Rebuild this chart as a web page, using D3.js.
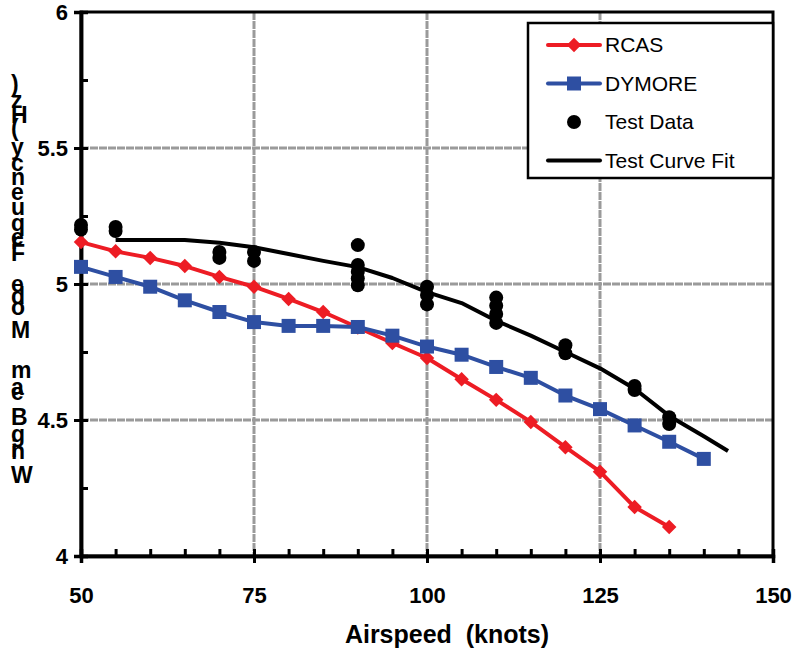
<!DOCTYPE html>
<html>
<head>
<meta charset="utf-8">
<script src="https://cdn.jsdelivr.net/npm/d3@7"></script>
<style>
  body { margin: 0; background: #fff; }
  svg { display: block; font-family: Arial, "Liberation Sans", sans-serif; }
</style>
</head>
<body>
<svg id="chart" width="798" height="653"></svg>
<script>
// Données
const rcasX = [50, 55, 60, 65, 70, 75, 80, 85, 90, 95, 100, 105, 110, 115, 120, 125, 130, 135];
const rcasY = [5.154, 5.12, 5.096, 5.066, 5.026, 4.99, 4.945, 4.897, 4.84, 4.783, 4.728, 4.65, 4.574, 4.493, 4.40, 4.31, 4.18, 4.107];

const dymoreX = [50, 55, 60, 65, 70, 75, 80, 85, 90, 95, 100, 105, 110, 115, 120, 125, 130, 135, 140];
const dymoreY = [5.063, 5.026, 4.99, 4.94, 4.897, 4.86, 4.846, 4.846, 4.842, 4.81, 4.77, 4.74, 4.695, 4.655, 4.59, 4.54, 4.48, 4.42, 4.357];

const testX = [50, 50, 55, 55, 70, 70, 75, 75, 90, 90, 90, 90, 90, 100, 100, 100, 110, 110, 110, 110, 120, 120, 130, 130, 135, 135];
const testY = [5.217, 5.20, 5.21, 5.195, 5.118, 5.096, 5.118, 5.085, 5.143, 5.07, 5.045, 5.02, 4.995, 4.99, 4.96, 4.925, 4.95, 4.92, 4.89, 4.857, 4.775, 4.745, 4.625, 4.61, 4.51, 4.485];

const fitX = [55, 60, 65, 70, 75, 80, 85, 90, 95, 100, 105, 110, 115, 120, 125, 130, 135, 140, 143.5];
const fitY = [5.162, 5.162, 5.162, 5.152, 5.135, 5.11, 5.085, 5.062, 5.022, 4.97, 4.93, 4.865, 4.81, 4.75, 4.69, 4.615, 4.515, 4.44, 4.386];

const xMajor = [50, 75, 100, 125, 150];
const yMajor = [4, 4.5, 5, 5.5, 6];
const seriesNames = ["RCAS", "DYMORE", "Test Data", "Test Curve Fit"];

const red = "#ED1C24";
const blue = "#2E4FA2";

const svg = d3.select("#chart");

// Zone du graphique
const margin = { top: 12, right: 25, bottom: 97, left: 81 };
const width = +svg.attr("width") - margin.left - margin.right;
const height = +svg.attr("height") - margin.top - margin.bottom;

const x = d3.scaleLinear().domain([50, 150]).range([0, width]);
const y = d3.scaleLinear().domain([4, 6]).range([height, 0]);

const g = svg.append("g").attr("transform", `translate(${margin.left},${margin.top})`);

// Grille grise
g.append("g")
    .selectAll("line")
    .data(xMajor.slice(1, -1))
    .enter().append("line")
    .attr("x1", d => x(d)).attr("x2", d => x(d))
    .attr("y1", 0).attr("y2", height)
    .attr("stroke", "#9a9a9a").attr("stroke-width", 3).attr("stroke-dasharray", "8,1");

g.append("g")
    .selectAll("line")
    .data(yMajor.slice(1, -1))
    .enter().append("line")
    .attr("y1", d => y(d)).attr("y2", d => y(d))
    .attr("x1", 0).attr("x2", width)
    .attr("stroke", "#9a9a9a").attr("stroke-width", 3).attr("stroke-dasharray", "8,1");

// Cadre
g.append("rect")
    .attr("width", width).attr("height", height)
    .attr("fill", "none").attr("stroke", "black").attr("stroke-width", 3);

// Axes : graduations extérieures + libellés
const xAxis = g.append("g")
    .attr("transform", `translate(0,${height})`)
    .call(d3.axisBottom(x).tickValues(xMajor).tickSize(7).tickPadding(24).tickFormat(d3.format("d")));

const xAxisIn = g.append("g")
    .attr("transform", `translate(0,${height})`)
    .call(d3.axisBottom(x).tickValues(d3.range(50, 151, 5)).tickSize(-7).tickFormat(""));

const yAxis = g.append("g")
    .call(d3.axisLeft(y).tickValues(yMajor).tickSize(7).tickPadding(6).tickFormat(d => d));

const yAxisIn = g.append("g")
    .call(d3.axisLeft(y).tickValues(d3.range(4, 6.01, 0.25)).tickSize(-7).tickFormat(""));

[xAxis, xAxisIn, yAxis, yAxisIn].forEach(a => {
    a.selectAll(".domain").attr("stroke", "black").attr("stroke-width", 3.5);
    a.selectAll("line").attr("stroke", "black").attr("stroke-width", 3);
    a.selectAll("text")
        .attr("fill", "black")
        .style("font-size", "22px")
        .style("font-weight", "bold")
        .style("font-family", "Arial, 'Liberation Sans', sans-serif");
});

// Courbes
const line = d3.line().x(d => x(d[0])).y(d => y(d[1]));

const fitData = fitX.map((d, i) => [d, fitY[i]]);
const rcasData = rcasX.map((d, i) => [d, rcasY[i]]);
const dymoreData = dymoreX.map((d, i) => [d, dymoreY[i]]);
const testData = testX.map((d, i) => [d, testY[i]]);

const diamond = d3.symbol().type(d3.symbolSquare).size(105);

g.append("path").datum(rcasData)
    .attr("d", line).attr("fill", "none")
    .attr("stroke", red).attr("stroke-width", 4).attr("stroke-linejoin", "round");

g.selectAll(".dm").data(rcasData)
    .enter().append("path")
    .attr("class", "dm")
    .attr("transform", d => `translate(${x(d[0])},${y(d[1])}) rotate(45)`)
    .attr("d", diamond)
    .attr("fill", red);

g.append("path").datum(dymoreData)
    .attr("d", line).attr("fill", "none")
    .attr("stroke", blue).attr("stroke-width", 4).attr("stroke-linejoin", "round");

g.selectAll(".sq").data(dymoreData)
    .enter().append("rect")
    .attr("class", "sq")
    .attr("x", d => x(d[0]) - 7).attr("y", d => y(d[1]) - 7)
    .attr("width", 14).attr("height", 14)
    .attr("fill", blue);

g.append("path").datum(fitData)
    .attr("d", line).attr("fill", "none")
    .attr("stroke", "black").attr("stroke-width", 4).attr("stroke-linejoin", "round");

g.selectAll(".pt").data(testData)
    .enter().append("circle")
    .attr("class", "pt")
    .attr("cx", d => x(d[0])).attr("cy", d => y(d[1]))
    .attr("r", 7)
    .attr("fill", "black");

// Légende
const legend = svg.append("g").attr("transform", "translate(528,23)");
legend.append("rect")
    .attr("width", 245).attr("height", 155)
    .attr("fill", "white").attr("stroke", "black").attr("stroke-width", 2.5);

seriesNames.forEach((name, i) => {
    const ly = 22 + i * 38.5;
    const row = legend.append("g").attr("transform", `translate(0,${ly})`);
    if (name !== "Test Data") {
        row.append("line")
            .attr("x1", 20).attr("x2", 72)
            .attr("stroke", i === 0 ? red : i === 1 ? blue : "black")
            .attr("stroke-width", 4).attr("stroke-linecap", "round");
    }
    if (i === 0) row.append("path").attr("transform", "translate(46,0) rotate(45)").attr("d", diamond).attr("fill", red);
    if (i === 1) row.append("rect").attr("x", 39).attr("y", -7).attr("width", 14).attr("height", 14).attr("fill", blue);
    if (i === 2) row.append("circle").attr("cx", 46).attr("r", 7).attr("fill", "black");
    row.append("text")
        .attr("x", 77).attr("dy", "0.35em")
        .style("font-size", "21px")
        .attr("fill", "black")
        .text(name);
});

// Titre de l'axe x
svg.append("text")
    .attr("x", 447)
    .attr("y", 643)
    .attr("text-anchor", "middle")
    .style("font-size", "25px")
    .style("font-weight", "bold")
    .style("white-space", "pre")
    .attr("xml:space", "preserve")
    .text("Airspeed  (knots)");

// Titre de l'axe y : lettres empilées comme dans l'original
const yTitleChars = ["W", "i", "n", "g", "B", "e", "a", "m", "M", "o", "d", "e", "F", "r", "e", "q", "u", "e", "n", "c", "y", "(", "H", "z", ")"];
const yTitlePos = [475, 449, 451, 434, 417, 392, 387, 370, 330, 307, 296, 284, 253, 241, 237, 223, 207, 192, 177, 163, 147, 128, 115, 100, 84];
svg.append("g")
    .selectAll("text")
    .data(yTitleChars)
    .enter().append("text")
    .attr("x", 11)
    .attr("y", (d, i) => yTitlePos[i])
    .attr("dy", "0.35em")
    .attr("text-anchor", "start")
    .style("font-size", "23px")
    .style("font-weight", "bold")
    .text(d => d);
</script>
</body>
</html>
